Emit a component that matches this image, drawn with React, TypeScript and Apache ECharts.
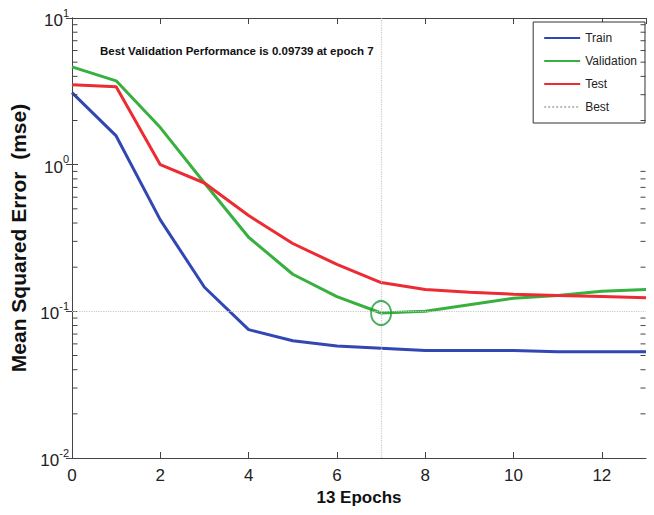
import React, { useEffect, useRef } from "react";
import * as echarts from "echarts";

const epochs = [0, 1, 2, 3, 4, 5, 6, 7, 8, 9, 10, 11, 12, 13];
const trainMse = [3.1, 1.57, 0.42, 0.146, 0.075, 0.063, 0.058, 0.056, 0.054, 0.054, 0.054, 0.053, 0.053, 0.053];
const validationMse = [4.64, 3.73, 1.79, 0.75, 0.32, 0.179, 0.126, 0.09739, 0.1, 0.111, 0.123, 0.128, 0.137, 0.141];
const testMse = [3.5, 3.4, 1.0, 0.75, 0.45, 0.29, 0.209, 0.157, 0.141, 0.135, 0.131, 0.128, 0.126, 0.124];
const bestEpoch = 7;
const bestPerf = 0.09739;
const legendNames = ["Train", "Validation", "Test", "Best"];
const minorTickValues = [
  0.02, 0.03, 0.04, 0.05, 0.06, 0.07, 0.08, 0.09,
  0.2, 0.3, 0.4, 0.5, 0.6, 0.7, 0.8, 0.9,
  2, 3, 4, 5, 6, 7, 8, 9,
];

const FONT = "'Liberation Sans', Arial, sans-serif";

export default function App() {
  const ref = useRef<HTMLDivElement>(null);
  useEffect(() => {
    if (!ref.current) return;
    const chart = echarts.init(ref.current, null, { renderer: "svg" });
    const pair = (ys: number[]) => epochs.map((x, i) => [x, ys[i]]);
    const yLabel = (v: number) => {
      const e = Math.round(Math.log10(v));
      return "{b|10}{s|" + e + "}";
    };
    chart.setOption({
      animation: false,
      backgroundColor: "#fff",
      textStyle: { fontFamily: FONT },
      title: {
        text: "Best Validation Performance is " + bestPerf + " at epoch " + bestEpoch,
        left: 95,
        top: 40,
        textStyle: { fontSize: 11.5, fontWeight: "bold", color: "#111", fontFamily: FONT },
      },
      legend: {
        data: legendNames,
        orient: "vertical",
        right: 9,
        top: 22,
        itemWidth: 36,
        itemHeight: 10,
        itemGap: 11,
        padding: [10, 8, 10, 10],
        borderColor: "#333",
        borderWidth: 1,
        backgroundColor: "#fff",
        itemStyle: { opacity: 0 },
        textStyle: { fontSize: 12, color: "#222", fontFamily: FONT },
      },
      grid: { left: 72, right: 8, top: 18, bottom: 57 },
      xAxis: [
        {
          type: "value",
          min: 0,
          max: 13,
          interval: 2,
          name: "13 Epochs",
          nameLocation: "middle",
          nameGap: 28,
          nameTextStyle: { fontSize: 17, fontWeight: "bold", color: "#111", fontFamily: FONT },
          axisLine: { lineStyle: { color: "#444" } },
          axisTick: { inside: true, length: 6, lineStyle: { color: "#444" } },
          axisLabel: { fontSize: 17, color: "#222", margin: 9, showMaxLabel: false, formatter: (v: number) => (v === 13 ? "" : String(v)) },
          splitLine: { show: false },
        },
        {
          type: "value",
          position: "top",
          min: 0,
          max: 13,
          interval: 2,
          axisLine: { lineStyle: { color: "#444" } },
          axisTick: { inside: true, length: 6, lineStyle: { color: "#444" } },
          axisLabel: { show: false },
          splitLine: { show: false },
        },
      ],
      yAxis: [
        {
          type: "log",
          logBase: 10,
          min: 0.01,
          max: 10,
          name: "Mean Squared Error  (mse)",
          nameLocation: "middle",
          nameGap: 33,
          nameTextStyle: { fontSize: 21, fontWeight: "bold", color: "#111", fontFamily: FONT },
          axisLine: { show: true, lineStyle: { color: "#444" } },
          axisTick: { inside: true, length: 6, lineStyle: { color: "#444" } },
          axisLabel: {
            formatter: yLabel,
            margin: 3,
            rich: {
              b: { fontSize: 17, color: "#222", fontFamily: FONT, lineHeight: 22, verticalAlign: "bottom" },
              s: { fontSize: 11, color: "#222", fontFamily: FONT, verticalAlign: "top", lineHeight: 22 },
            },
          },
          splitLine: { show: false },
        },
        {
          type: "log",
          logBase: 10,
          min: 0.01,
          max: 10,
          position: "right",
          axisLine: { show: true, lineStyle: { color: "#444" } },
          axisTick: { inside: true, length: 6, lineStyle: { color: "#444" } },
          axisLabel: { show: false },
          splitLine: { show: false },
        },
      ],
      series: [
        {
          name: "Best",
          type: "line",
          data: [],
          symbol: "none",
          lineStyle: { type: "dotted", color: "#bbbbbb", width: 1.5 },
          itemStyle: { color: "#bbbbbb" },
          markLine: {
            silent: true,
            symbol: "none",
            label: { show: false },
            lineStyle: { type: "dotted", color: "#c8c8c8", width: 1.2 },
            data: [{ xAxis: bestEpoch }, { yAxis: bestPerf }],
          },
        },
        {
          name: "Train",
          type: "line",
          data: pair(trainMse),
          symbol: "none",
          lineStyle: { color: "#3246b4", width: 3 },
          itemStyle: { color: "#3246b4" },
        },
        {
          name: "Validation",
          type: "line",
          data: pair(validationMse),
          symbol: "none",
          lineStyle: { color: "#37b040", width: 3 },
          itemStyle: { color: "#37b040" },
        },
        {
          name: "Test",
          type: "line",
          data: pair(testMse),
          symbol: "none",
          lineStyle: { color: "#ec2b33", width: 3 },
          itemStyle: { color: "#ec2b33" },
        },
        {
          name: "BestPoint",
          type: "scatter",
          data: [[bestEpoch, bestPerf]],
          symbol: "circle",
          symbolSize: [20, 24],
          itemStyle: { color: "rgba(0,0,0,0)", borderColor: "#1e9a3a", borderWidth: 2 },
          z: 5,
        },
        {
          name: "MinorTicks",
          type: "custom",
          silent: true,
          clip: false,
          data: minorTickValues.map((v) => [6, v]),
          renderItem: (params: any, api: any) => {
            const v = api.value(1);
            const y = api.coord([6, v])[1];
            const cs = params.coordSys;
            const left = cs.x;
            const right = cs.x + cs.width;
            return {
              type: "group",
              children: [
                { type: "rect", shape: { x: left + 0.5, y: y - 0.5, width: 5, height: 1 }, style: { fill: "#444" } },
                { type: "rect", shape: { x: right - 5.5, y: y - 0.5, width: 5, height: 1 }, style: { fill: "#444" } },
              ],
            };
          },
          z: 10,
        },
      ],
    });
    return () => chart.dispose();
  }, []);
  return <div ref={ref} style={{ width: 654, height: 515, position: "absolute", left: 0, top: 0 }} />;
}
